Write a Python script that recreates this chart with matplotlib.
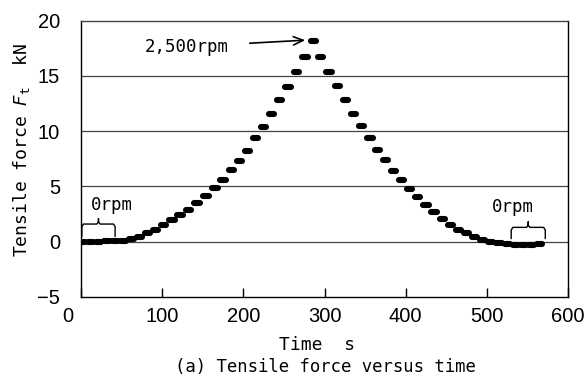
import numpy as np
import matplotlib
matplotlib.use("Agg")
import matplotlib.pyplot as plt
import matplotlib.transforms as mtransforms

plt.rcParams['font.family'] = 'Liberation Sans'
plt.rcParams['mathtext.fontset'] = 'custom'
plt.rcParams['mathtext.it'] = 'DejaVu Sans:italic'
plt.rcParams['mathtext.rm'] = 'DejaVu Sans Mono'

MONO = 'DejaVu Sans Mono'

# plateau centres (s) and tensile force (kN)
t_up = [2, 12, 22, 32, 42, 52, 62, 72, 82, 92, 102, 112, 122, 132, 143, 154,
        165, 175, 185, 195, 205, 215, 225, 235, 245, 255, 265.5, 276, 286]
f_up = [0.0, 0.0, 0.02, 0.05, 0.05, 0.1, 0.25, 0.45, 0.75, 1.05, 1.5, 1.95,
        2.4, 2.9, 3.5, 4.15, 4.85, 5.6, 6.45, 7.3, 8.25, 9.35, 10.4, 11.6,
        12.8, 14.0, 15.4, 16.75, 18.2]
t_down = [295, 305.5, 316, 326, 335.5, 346, 356, 365, 375, 385, 395, 405, 415,
          425, 435, 445, 455, 465, 475, 485, 495, 505, 515, 525, 535, 545,
          555, 565]
f_down = [16.75, 15.4, 14.1, 12.8, 11.6, 10.45, 9.35, 8.3, 7.35, 6.4, 5.6,
          4.75, 4.05, 3.3, 2.65, 2.05, 1.55, 1.1, 0.75, 0.45, 0.2, 0.0, -0.15,
          -0.25, -0.3, -0.32, -0.28, -0.18]

t = np.array(t_up + t_down)
f = np.array(f_up + f_down)

xticks = [0, 100, 200, 300, 400, 500, 600]
yticks = [-5, 0, 5, 10, 15, 20]

fig = plt.figure(figsize=(5.88, 3.81), dpi=100)
ax = fig.add_axes([0.1378, 0.2205, 0.8282, 0.7252])

ax.set_xlim(0, 600)
ax.set_ylim(-5, 20)
for y in [0, 5, 10, 15]:
    ax.axhline(y, color='#444444', lw=0.9, zorder=1)

# each speed step shows up as a short flat dash
ax.hlines(f, t - 3.2, t + 3.2, color='black', lw=4.4, capstyle='round', zorder=3)

ax.set_xticks(xticks)
ax.set_yticks(yticks)
ax.tick_params(axis='x', direction='in', length=6.5, width=1.0, pad=7, labelsize=14.5)
ax.tick_params(axis='y', length=0, pad=15, labelsize=14.5)
for s in ax.spines.values():
    s.set_linewidth(1.0)
ax.spines['top'].set_color('#444444')

# the "0" tick label sits left of the corner in the original
lab0 = ax.get_xticklabels()[0]
lab0.set_transform(lab0.get_transform() + mtransforms.ScaledTranslation(-0.13, 0, fig.dpi_scale_trans))

fig.text(0.037, 0.607, 'Tensile force $F_{\\mathrm{t}}$  kN', rotation=90,
         ha='center', va='center', family=MONO, fontsize=13)
fig.text(0.54, 0.094, 'Time  s', ha='center', va='center', family=MONO, fontsize=13)
fig.text(0.553, 0.036, '(a) Tensile force versus time', ha='center', va='center',
         family=MONO, fontsize=12.4)

# annotations
ax.annotate('', xy=(279.7, 18.25), xytext=(204.5, 17.95),
            arrowprops=dict(arrowstyle='->,head_length=0.7,head_width=0.3', lw=1.2, color='black'))
ax.text(130.6, 17.6, '2,500rpm', ha='center', va='center', family=MONO, fontsize=12.5)
ax.text(38.6, 3.3, '0rpm', ha='center', va='center', family=MONO, fontsize=12.5)
ax.text(532, 3.1, '0rpm', ha='center', va='center', family=MONO, fontsize=12.5)


def brace(x0, x1, yb, ym, yt):
    xm = (x0 + x1) / 2
    ax.plot([x0, x0, x0 + 2, xm - 2, xm, xm, xm, xm + 2, x1 - 2, x1, x1],
            [yb, ym - 0.25, ym, ym, ym + 0.2, yt, ym + 0.2, ym, ym, ym - 0.25, yb],
            color='black', lw=1.0, zorder=4)


brace(1, 42, 0.5, 1.6, 2.1)
brace(530, 572, 0.3, 1.3, 1.8)

fig.savefig('out.png', dpi=100)
